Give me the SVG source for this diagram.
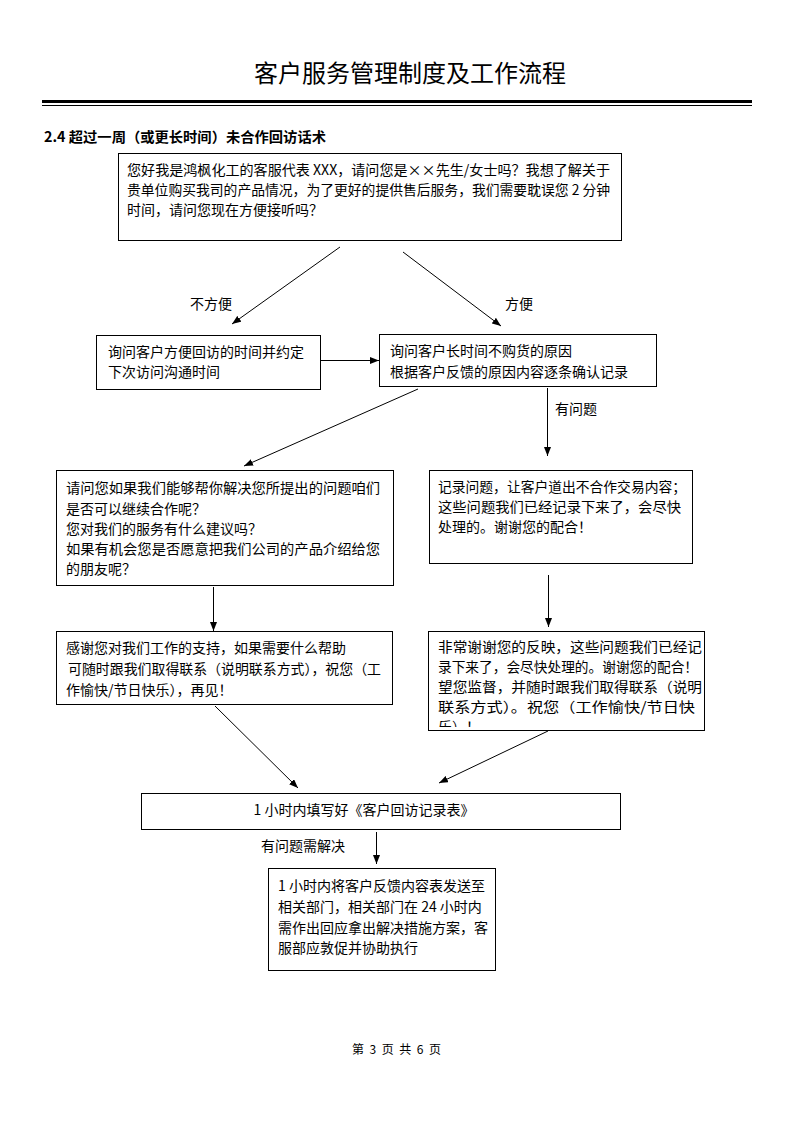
<svg xmlns="http://www.w3.org/2000/svg" width="794" height="1123" viewBox="0 0 794 1123">
<style>
text{font-family:"Noto Sans CJK SC","Liberation Sans",sans-serif;font-size:14px;fill:#000}
.box{fill:#fff;stroke:#000;stroke-width:1}
.title{font-size:24px}
.sub{font-size:14px;font-weight:bold}
.foot{font-size:12px}
.conn line{stroke:#000;stroke-width:1;marker-end:url(#ah)}
</style>
<defs>
<marker id="ah" markerUnits="userSpaceOnUse" markerWidth="9" markerHeight="7" refX="9" refY="3.5" orient="auto">
<path d="M0,0 L9,3.5 L0,7 z" fill="#000"/>
</marker>
<clipPath id="c7"><rect x="428" y="631" width="276" height="96"/></clipPath>
</defs>
<rect width="794" height="1123" fill="#fff"/>
<g id="header">
<text class="title" x="410" y="82" text-anchor="middle">客户服务管理制度及工作流程</text>
<line x1="42" y1="101.5" x2="752" y2="101.5" stroke="#000" stroke-width="3"/>
<line x1="42" y1="105.5" x2="752" y2="105.5" stroke="#000" stroke-width="1"/>
<text class="sub" x="44" y="142" textLength="282" lengthAdjust="spacingAndGlyphs">2.4 超过一周（或更长时间）未合作回访话术</text>
</g>
<g id="n1">
<rect class="box" x="118.5" y="153.5" width="503" height="87"/>
<text x="127" y="175" textLength="483" lengthAdjust="spacingAndGlyphs">您好我是鸿枫化工的客服代表 XXX，请问您是××先生/女士吗？我想了解关于</text>
<text x="127" y="194.5" textLength="483" lengthAdjust="spacingAndGlyphs">贵单位购买我司的产品情况，为了更好的提供售后服务，我们需要耽误您 2 分钟</text>
<text x="127" y="214.5">时间，请问您现在方便接听吗？</text>
</g>
<g id="n2">
<rect class="box" x="96.5" y="335.5" width="224" height="54"/>
<text x="108" y="357">询问客户方便回访的时间并约定</text>
<text x="108" y="377">下次访问沟通时间</text>
</g>
<g id="n3">
<rect class="box" x="379.5" y="334.5" width="277" height="52"/>
<text x="390" y="356">询问客户长时间不购货的原因</text>
<text x="390" y="377">根据客户反馈的原因内容逐条确认记录</text>
</g>
<g id="n4">
<rect class="box" x="56.5" y="470.5" width="337" height="115"/>
<text x="66" y="493" textLength="314" lengthAdjust="spacingAndGlyphs">请问您如果我们能够帮你解决您所提出的问题咱们</text>
<text x="66" y="514">是否可以继续合作呢？</text>
<text x="66" y="534">您对我们的服务有什么建议吗？</text>
<text x="66" y="554" textLength="314" lengthAdjust="spacingAndGlyphs">如果有机会您是否愿意把我们公司的产品介绍给您</text>
<text x="66" y="574">的朋友呢？</text>
</g>
<g id="n5">
<rect class="box" x="429.5" y="470.5" width="263" height="93"/>
<text x="438" y="492" textLength="248" lengthAdjust="spacingAndGlyphs">记录问题，让客户道出不合作交易内容；</text>
<text x="438" y="512" textLength="243" lengthAdjust="spacingAndGlyphs">这些问题我们已经记录下来了，会尽快</text>
<text x="438" y="532">处理的。谢谢您的配合！</text>
</g>
<g id="n6">
<rect class="box" x="56.5" y="631.5" width="336" height="73"/>
<text x="66" y="653">感谢您对我们工作的支持，如果需要什么帮助</text>
<text x="68" y="674" textLength="313" lengthAdjust="spacingAndGlyphs">可随时跟我们取得联系（说明联系方式），祝您（工</text>
<text x="66" y="695">作愉快/节日快乐），再见！</text>
</g>
<g id="n7">
<rect class="box" x="428.5" y="631.5" width="276" height="99"/>
<g clip-path="url(#c7)">
<text x="438" y="652" textLength="264" lengthAdjust="spacingAndGlyphs">非常谢谢您的反映，这些问题我们已经记</text>
<text x="438" y="671.5" textLength="260" lengthAdjust="spacingAndGlyphs">录下来了，会尽快处理的。谢谢您的配合！</text>
<text x="438" y="692" textLength="264" lengthAdjust="spacingAndGlyphs">望您监督，并随时跟我们取得联系（说明</text>
<text x="438" y="712" textLength="257" lengthAdjust="spacingAndGlyphs">联系方式）。祝您（工作愉快/节日快</text>
<text x="438" y="732">乐）！</text>
</g>
</g>
<g id="n8">
<rect class="box" x="141.5" y="793.5" width="479" height="36"/>
<text x="364" y="815" text-anchor="middle">1 小时内填写好《客户回访记录表》</text>
</g>
<g id="n9">
<rect class="box" x="268.5" y="868.5" width="227" height="102"/>
<text x="278" y="891">1 小时内将客户反馈内容表发送至</text>
<text x="278" y="912">相关部门，相关部门在 24 小时内</text>
<text x="278" y="933">需作出回应拿出解决措施方案，客</text>
<text x="278" y="953">服部应敦促并协助执行</text>
</g>
<g id="connectors" class="conn">
<line x1="340" y1="247" x2="232" y2="324"/>
<line x1="403" y1="252" x2="501" y2="326"/>
<line x1="321" y1="360.5" x2="379" y2="360.5"/>
<line x1="418" y1="389" x2="244" y2="466"/>
<line x1="547.5" y1="388" x2="547.5" y2="456"/>
<line x1="213.5" y1="587" x2="213.5" y2="631"/>
<line x1="548.5" y1="575" x2="548.5" y2="627"/>
<line x1="215" y1="706" x2="298" y2="788"/>
<line x1="548" y1="731" x2="439" y2="783"/>
<line x1="376.5" y1="832" x2="376.5" y2="864"/>
</g>
<g id="labels">
<text x="190" y="309">不方便</text>
<text x="505" y="309">方便</text>
<text x="555" y="414">有问题</text>
<text x="261" y="851">有问题需解决</text>
</g>
<text class="foot" x="352" y="1054" textLength="89" lengthAdjust="spacing">第 3 页 共 6 页</text>
</svg>
